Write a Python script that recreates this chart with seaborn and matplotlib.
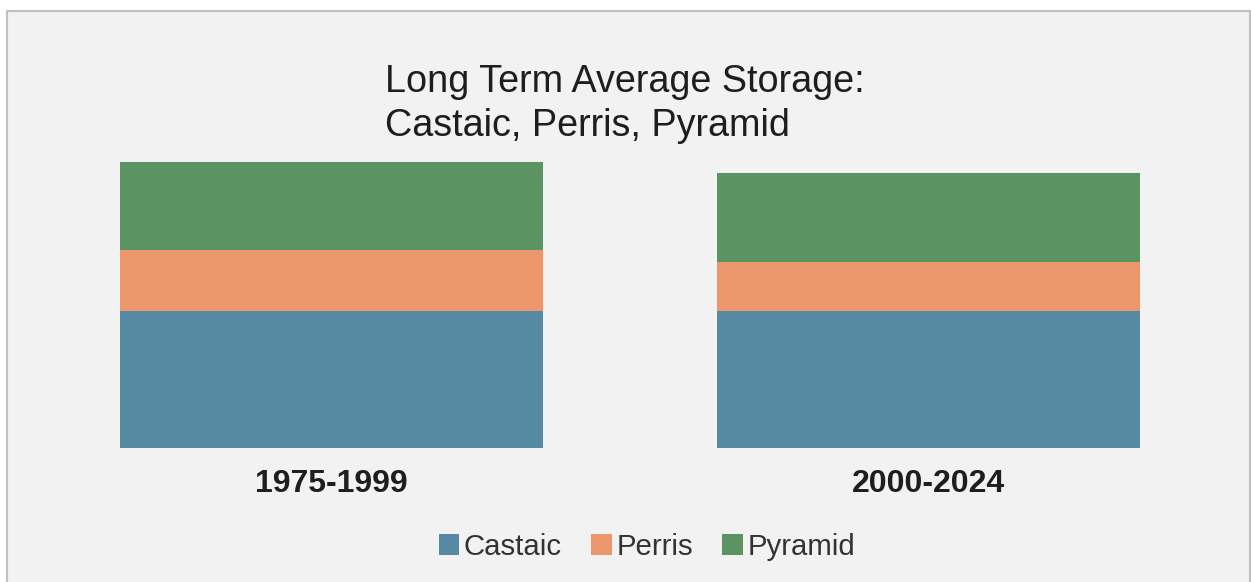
import matplotlib
matplotlib.use("Agg")
import matplotlib.pyplot as plt
from matplotlib.patches import Rectangle, Patch
import seaborn as sns
import pandas as pd

# Long-term average storage (thousand acre-feet) by period
periods = ["1975-1999", "2000-2024"]
castaic = [274, 275]
perris = [122, 97]
pyramid = [176, 179]

reservoirs = ["Castaic", "Perris", "Pyramid"]
colors = {"Castaic": "#568aa3", "Perris": "#eb966b", "Pyramid": "#5b9362"}

df = pd.DataFrame({"period": periods, "Castaic": castaic,
                   "Perris": perris, "Pyramid": pyramid})
# cumulative tops for stacking: draw tallest first, then overlay shorter ones
df["top_Castaic"] = df["Castaic"]
df["top_Perris"] = df["Castaic"] + df["Perris"]
df["top_Pyramid"] = df["Castaic"] + df["Perris"] + df["Pyramid"]

sns.set_theme(style="white")
plt.rcParams["font.family"] = ["Liberation Sans", "DejaVu Sans"]

W, H = 1251, 582
fig = plt.figure(figsize=(W / 100, H / 100), dpi=100, facecolor="white")

# panel background with thin grey frame
fig.patches.append(Rectangle((7 / W, -0.05), (1250 - 7) / W, (H - 11) / H + 0.05,
                             transform=fig.transFigure, facecolor="#f2f2f2",
                             edgecolor="#c0c0c0", linewidth=1.5, zorder=-10))

ax = fig.add_axes([33 / W, (H - 448) / H, (1227 - 33) / W, 300 / H])
ax.set_facecolor("none")
ax.set_zorder(1)

for name in ["Pyramid", "Perris", "Castaic"]:
    sns.barplot(data=df, x="period", y=f"top_{name}", color=colors[name],
                width=0.709, saturation=1, ax=ax, linewidth=0)

ax.set_xlim(-0.5, 1.5)
ax.set_ylim(0, 600)
ax.set_xlabel("")
ax.set_ylabel("")
ax.set_yticks([])
for s in ax.spines.values():
    s.set_visible(False)
ax.tick_params(axis="x", length=0, pad=15, labelsize=23, labelcolor="#1e1e1e")
for lbl in ax.get_xticklabels():
    lbl.set_fontweight("bold")

fig.text(385 / W, 1 - 64 / H, "Long Term Average Storage:\nCastaic, Perris, Pyramid",
         ha="left", va="top", fontsize=27.2, color="#1e1e1e", linespacing=1.3)

handles = [Patch(facecolor=colors[r], edgecolor="none", label=r) for r in reservoirs]
fig.legend(handles=handles, loc="center", bbox_to_anchor=(647 / W, 1 - 547 / H),
           ncol=3, frameon=False, fontsize=21.2, handlelength=0.7, handleheight=0.7,
           handletextpad=0.15, columnspacing=1.0, labelcolor="#333333")

fig.savefig("out.png", dpi=100, facecolor="white")
